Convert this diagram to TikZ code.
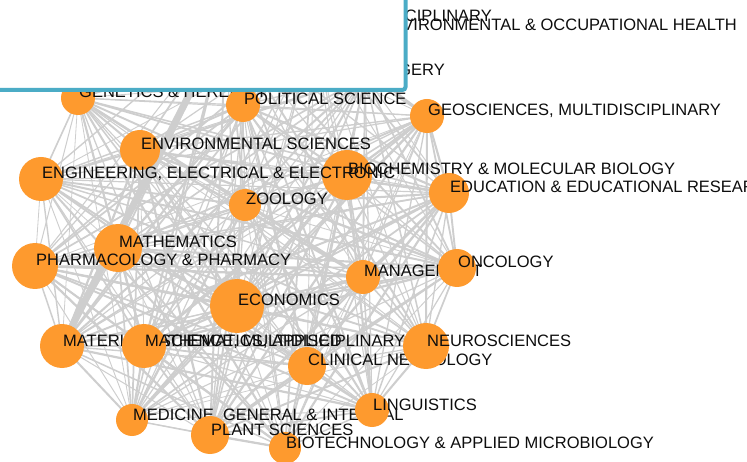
\documentclass[tikz,border=0pt]{standalone}
\usepackage{fontspec}
\setmainfont{Liberation Sans}
\pgfdeclarelayer{edges}
\pgfdeclarelayer{top}
\pgfsetlayers{edges,main,top}
\definecolor{nodeorange}{RGB}{254,154,46}
\definecolor{edgegray}{RGB}{206,206,206}
\definecolor{boxteal}{RGB}{75,172,198}
\tikzset{
  vert/.style={circle, fill=nodeorange, draw=none, inner sep=0pt, minimum size=#1},
  lbl/.style={anchor=base west, inner sep=0pt, text=black!95, font=\fontsize{16.5}{18}\selectfont},
  lble/.style={anchor=base east, inner sep=0pt, text=black!95, font=\fontsize{16.5}{18}\selectfont},
  edge/.style={draw=edgegray, line cap=round},
  overlay box/.style={draw=boxteal, line width=4pt, fill=white, rounded corners=3pt}
}
% name, x, y, diameter, label
\newcommand\vtx[5]{%
  \node[vert=#4pt] (#1) at (#2,#3) {};
  \node[lbl] (#1l) at ([xshift=1pt]#1.center) {#5};
}
\begin{document}
\begin{tikzpicture}[x=1pt, y=-1pt]
\useasboundingbox (0,0) rectangle (747,462);
% hidden nodes (under the box)
\node[vert=36pt] (chem) at (226,22) {};
\node[lble] (cheml) at (492,22) {CHEMISTRY, MULTIDISCIPLINARY};
\node[vert=36pt] (peoh) at (314,31) {};
\node[lble] (peohl) at (737,31) {PUBLIC, ENVIRONMENTAL \& OCCUPATIONAL HEALTH};
\node[vert=24pt] (surg) at (365,76) {};
\node[lble] (surgl) at (445,76) {SURGERY};
% visible nodes
\vtx{gen}{78}{98}{34}{GENETICS \& HEREDITY}
\vtx{pol}{243}{105}{34}{POLITICAL SCIENCE}
\vtx{geo}{427}{116}{34}{GEOSCIENCES, MULTIDISCIPLINARY}
\vtx{envs}{140}{150}{40}{ENVIRONMENTAL SCIENCES}
\vtx{bio}{347}{175}{50}{BIOCHEMISTRY \& MOLECULAR BIOLOGY}
\vtx{eng}{41}{179}{44}{ENGINEERING, ELECTRICAL \& ELECTRONIC}
\vtx{edu}{449}{193}{40}{EDUCATION \& EDUCATIONAL RESEARCH}
\vtx{zoo}{245}{205}{32}{ZOOLOGY}
\vtx{math}{118}{248}{48}{MATHEMATICS}
\vtx{phar}{35}{266}{46}{PHARMACOLOGY \& PHARMACY}
\vtx{mgmt}{363}{277}{34}{MANAGEMENT}
\vtx{onc}{457}{268}{38}{ONCOLOGY}
\vtx{econ}{237}{306}{54}{ECONOMICS}
\vtx{mats}{62}{346}{44}{MATERIALS SCIENCE, MULTIDISCIPLINARY}
\vtx{mapp}{144}{346}{44}{MATHEMATICS, APPLIED}
\vtx{clin}{307}{366}{38}{CLINICAL NEUROLOGY}
\vtx{neur}{426}{346}{46}{NEUROSCIENCES}
\vtx{med}{132}{420}{32}{MEDICINE, GENERAL \& INTERNAL}
\vtx{biot}{285}{448}{32}{BIOTECHNOLOGY \& APPLIED MICROBIOLOGY}
\vtx{plant}{210}{435}{38}{PLANT SCIENCES}
\vtx{ling}{372}{410}{34}{LINGUISTICS}
% edges
\begin{pgfonlayer}{edges}
\pgfmathsetseed{11}
\foreach \a [count=\i] in {chem,peoh,surg,gen,pol,geo,envs,bio,eng,edu,zoo,math,phar,mgmt,onc,econ,mats,mapp,clin,neur,med,biot,plant,ling}{
  \foreach \b [count=\j] in {chem,peoh,surg,gen,pol,geo,envs,bio,eng,edu,zoo,math,phar,mgmt,onc,econ,mats,mapp,clin,neur,med,biot,plant,ling}{
    \ifnum\j>\i
      \pgfmathsetmacro\w{0.8+1.6*rnd}
      \draw[edge, line width=\w pt] (\a.center) -- (\b.center);
    \fi
  }
}
\draw[edge, line width=7pt] (mats.center) -- (chem.center);
\end{pgfonlayer}
% overlay box
\begin{pgfonlayer}{top}
\draw[overlay box] (-10,-10) rectangle (405.5,90);
\end{pgfonlayer}
\end{tikzpicture}
\end{document}
